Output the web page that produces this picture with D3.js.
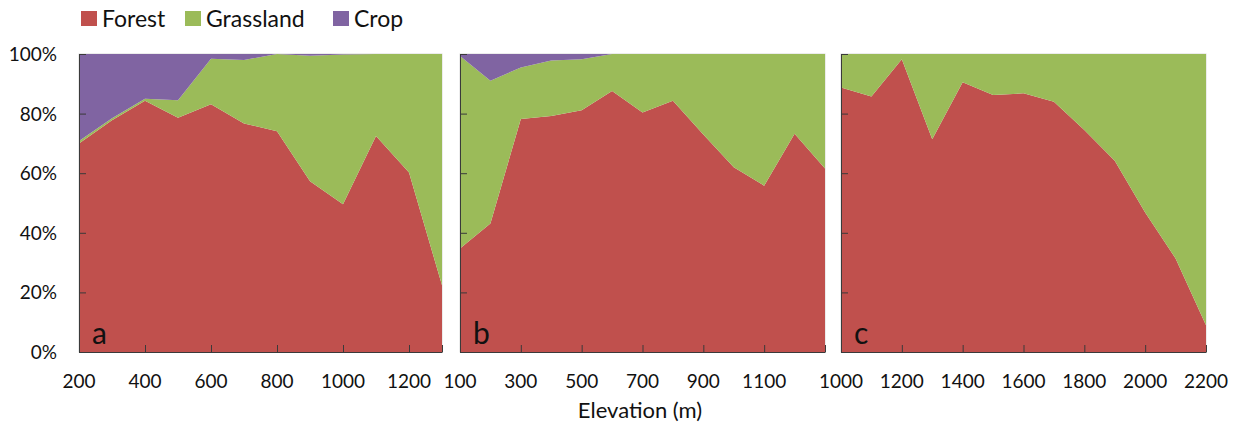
<!DOCTYPE html>
<html>
<head>
<meta charset="utf-8">
<script src="https://cdn.jsdelivr.net/npm/d3@7"></script>
<style>
  html, body { margin: 0; padding: 0; background: #fff; }
  svg text { font-family: Lato, "Open Sans", sans-serif; fill: #111; }
</style>
</head>
<body>
<svg id="chart" width="1242" height="432"></svg>
<script>
// Land-cover share (%) by elevation band, three study areas
const landTypes = ["Forest", "Grassland", "Crop"];
const typeColors = ["#C0504D", "#9BBB59", "#8064A2"];

const elevA   = [200, 300, 400, 500, 600, 700, 800, 900, 1000, 1100, 1200, 1300];
const forestA = [70.0, 77.8, 84.3, 78.6, 83.1, 76.7, 74.1, 57.3, 49.6, 72.5, 60.2, 22.4];
const grassA  = [0.8, 0.6, 0.7, 5.9, 15.3, 21.3, 25.9, 42.1, 50.2, 27.5, 39.8, 77.6];
const cropA   = [29.2, 21.6, 15.0, 15.5, 1.6, 2.0, 0.0, 0.6, 0.2, 0.0, 0.0, 0.0];

const elevB   = [100, 200, 300, 400, 500, 600, 700, 800, 900, 1000, 1100, 1200, 1300];
const forestB = [34.7, 43.1, 78.2, 79.2, 81.1, 87.6, 80.4, 84.3, 73.0, 62.0, 55.8, 73.2, 61.6];
const grassB  = [64.6, 47.9, 17.3, 18.6, 17.1, 12.4, 19.6, 15.7, 27.0, 38.0, 44.2, 26.8, 38.4];
const cropB   = [0.7, 9.0, 4.5, 2.2, 1.8, 0.0, 0.0, 0.0, 0.0, 0.0, 0.0, 0.0, 0.0];

const elevC   = [1000, 1100, 1200, 1300, 1400, 1500, 1600, 1700, 1800, 1900, 2000, 2100, 2200];
const forestC = [88.8, 85.7, 98.2, 71.4, 90.5, 86.2, 86.8, 84.0, 74.5, 64.2, 46.8, 31.4, 9.0];
const grassC  = [11.2, 14.3, 1.8, 28.6, 9.5, 13.8, 13.2, 16.0, 25.5, 35.8, 53.2, 68.6, 91.0];
const cropC   = [0, 0, 0, 0, 0, 0, 0, 0, 0, 0, 0, 0, 0];

const ticksA = [200, 400, 600, 800, 1000, 1200];
const ticksB = [100, 300, 500, 700, 900, 1100];
const ticksC = [1000, 1200, 1400, 1600, 1800, 2000, 2200];
const yTicks = [0, 20, 40, 60, 80, 100];

const panels = [
  { tag: "a", elev: elevA, forest: forestA, grass: grassA, crop: cropA, ticks: ticksA, x0: 79,  x1: 442 },
  { tag: "b", elev: elevB, forest: forestB, grass: grassB, crop: cropB, ticks: ticksB, x0: 460, x1: 825 },
  { tag: "c", elev: elevC, forest: forestC, grass: grassC, crop: cropC, ticks: ticksC, x0: 841, x1: 1206 }
];

const svg = d3.select("#chart");
const plotTop = 54, plotBottom = 352;
const y = d3.scaleLinear().domain([0, 100]).range([plotBottom, plotTop]);
const axisColor = "#3a3a3a";

panels.forEach((p, i) => {
  const x = d3.scaleLinear().domain([p.elev[0], p.elev[p.elev.length - 1]]).range([p.x0, p.x1]);
  const rows = p.elev.map((e, k) => ({ elev: e, Forest: p.forest[k], Grassland: p.grass[k], Crop: p.crop[k] }));
  const series = d3.stack().keys(landTypes)(rows);
  const area = d3.area()
    .x(d => x(d.data.elev))
    .y0(d => y(d[0]))
    .y1(d => y(Math.min(100, d[1])));

  const g = svg.append("g");

  // faint plot-area frame
  g.append("rect")
    .attr("x", p.x0).attr("y", plotTop)
    .attr("width", p.x1 - p.x0).attr("height", plotBottom - plotTop)
    .attr("fill", "none").attr("stroke", "#d9d9d9").attr("stroke-width", 1);

  g.selectAll("path.layer")
    .data(series)
    .join("path")
    .attr("class", "layer")
    .attr("d", area)
    .attr("fill", (d, k) => typeColors[k]);

  // x axis with inward ticks
  const xAxis = d3.axisBottom(x).tickValues(p.ticks.concat([p.elev[p.elev.length - 1]]))
    .tickSizeInner(-7).tickSizeOuter(0).tickFormat("");
  const gx = g.append("g").attr("transform", `translate(0,${plotBottom})`).call(xAxis);
  gx.selectAll("path, line").attr("stroke", axisColor);

  g.selectAll("text.xtick")
    .data(p.ticks)
    .join("text")
    .attr("class", "xtick")
    .attr("x", d => x(d))
    .attr("y", 388)
    .attr("text-anchor", "middle")
    .attr("font-size", 19)
    .text(d => d);

  // y axis with inward ticks
  const yAxis = d3.axisLeft(y).tickValues(yTicks).tickSizeInner(-7).tickSizeOuter(0).tickFormat("");
  const gy = g.append("g").attr("transform", `translate(${p.x0},0)`).call(yAxis);
  gy.selectAll("path, line").attr("stroke", axisColor);

  if (i === 0) {
    g.selectAll("text.ytick")
      .data(yTicks)
      .join("text")
      .attr("class", "ytick")
      .attr("x", 57)
      .attr("y", d => y(d) + 7)
      .attr("text-anchor", "end")
      .attr("font-size", 19)
      .text(d => d + "%");
  }

  g.append("text")
    .attr("x", p.x0 + 13)
    .attr("y", 344)
    .attr("font-size", 30)
    .text(p.tag);
});

// shared axis title
svg.append("text")
  .attr("x", 640)
  .attr("y", 418)
  .attr("text-anchor", "middle")
  .attr("font-size", 22)
  .text("Elevation (m)");

// legend
const legendX = [81, 185, 333];
const legend = svg.append("g");
landTypes.forEach((name, k) => {
  legend.append("rect")
    .attr("x", legendX[k]).attr("y", 11)
    .attr("width", 16).attr("height", 15)
    .attr("fill", typeColors[k]);
  legend.append("text")
    .attr("x", legendX[k] + 21).attr("y", 27)
    .attr("font-size", 23)
    .text(name);
});
</script>
</body>
</html>
